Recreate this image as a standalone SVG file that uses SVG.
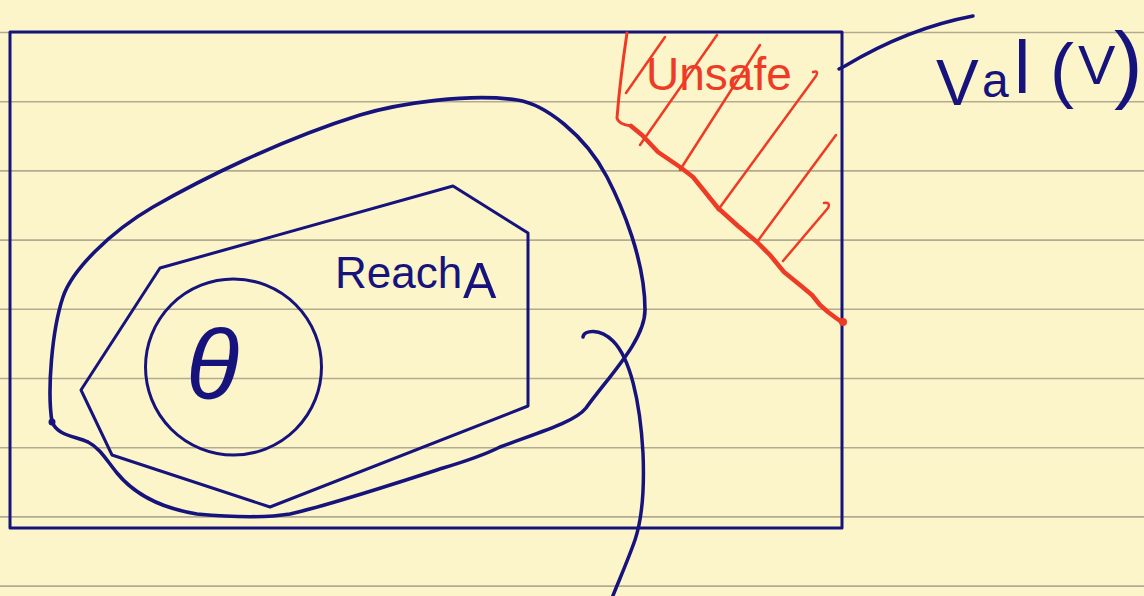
<svg xmlns="http://www.w3.org/2000/svg" width="1144" height="596" viewBox="0 0 1144 596">
<style>
.rule{stroke:#b2ab91;stroke-width:1.6;fill:none}
.ink{stroke:#17137d;fill:none;stroke-linecap:round;stroke-linejoin:round}
.red{stroke:#ee3b26;fill:none;stroke-linecap:round;stroke-linejoin:round}
.t{font-family:"Liberation Sans","DejaVu Sans",sans-serif}
</style>
<rect width="1144" height="596" fill="#fcf5c9"/>
<g id="paper">
<line class="rule" x1="0" y1="32.5" x2="1144" y2="32.5"/>
<line class="rule" x1="0" y1="101.7" x2="1144" y2="101.7"/>
<line class="rule" x1="0" y1="170.9" x2="1144" y2="170.9"/>
<line class="rule" x1="0" y1="240.1" x2="1144" y2="240.1"/>
<line class="rule" x1="0" y1="309.3" x2="1144" y2="309.3"/>
<line class="rule" x1="0" y1="378.5" x2="1144" y2="378.5"/>
<line class="rule" x1="0" y1="447.7" x2="1144" y2="447.7"/>
<line class="rule" x1="0" y1="516.9" x2="1144" y2="516.9"/>
<line class="rule" x1="0" y1="586.1" x2="1144" y2="586.1"/>
</g>
<g id="valV">
<rect class="ink" x="10" y="32" width="832" height="496" stroke-width="3" stroke-linecap="butt"/>
<text class="t" fill="#17137d"><tspan x="936" y="105" font-size="64">V</tspan><tspan x="982" y="97" font-size="48">a</tspan><tspan x="1014" y="93" font-size="74">l</tspan><tspan x="1050" y="94" font-size="72">(</tspan><tspan x="1078" y="84" font-size="56">V</tspan><tspan x="1114" y="92" font-size="86">)</tspan></text>
</g>
<g id="unsafe">
<path class="red" stroke-width="3" d="M627,33 Q620,80 617,118 Q618,124 631,126"/>
<polyline class="red" stroke-width="4.5" points="631,126 642,135 658,152 680,167 693,177 718,208 738,226 757,242 770,255 784,272 800,285 812,295 820,305 828,312 836,318 843,323"/>
<circle cx="843" cy="322" r="4" fill="#ee3b26"/>
<path class="red" stroke-width="2.5" d="M626,93 L665,37 M640,145 L717,35 M680,170 L760,45 M718,210 L816,76 Q819,70 813,72 M757,242 L836,135 M783,261 L828,208 Q831,202 824,203"/>
<text class="t" x="646" y="90" font-size="46" fill="#ee3b26">Unsafe</text>
</g>
<g id="reachB">
<path class="ink" stroke-width="3.6" d="M52,422 C47,390 52,330 63,297 C72,270 110,232 153,207 C200,180 280,140 360,115 C400,103 470,93 517,100 C545,104 585,135 607,177 C622,206 645,260 645,310 C645,340 610,375 586,408 C575,422 540,432 500,447 C490,452 470,460 443,468 C400,482 330,505 290,514 C265,518 230,517 197,514 C160,508 135,495 117,473 C107,461 100,448 88,442 C75,436 58,436 52,422"/>
<circle cx="52" cy="422" r="3.5" fill="#17137d"/>
</g>
<g id="reachA">
<polygon class="ink" stroke-width="3" points="160,268 453,186 528,233 528,406 270,507 112,455 81,390"/>
<text class="t" x="335" y="288" font-size="44" fill="#17137d">Reach<tspan x="463" y="298" font-size="50">A</tspan></text>
</g>
<g id="theta">
<circle class="ink" cx="233.5" cy="367" r="88" stroke-width="3"/>
<text class="t" x="186" y="398" font-size="98" font-style="italic" fill="#17137d">θ</text>
</g>
<g id="other">
<path class="ink" stroke-width="3.5" d="M583,337 C584,330 600,328 613,341 C630,358 640,400 643,453 C645,500 640,525 635,540 C628,560 620,578 612,598"/>
</g>
<g id="connectors">
<path class="ink" stroke-width="3.5" d="M839,69 L845,66 C880,45 920,26 973,16"/>
</g>
</svg>
